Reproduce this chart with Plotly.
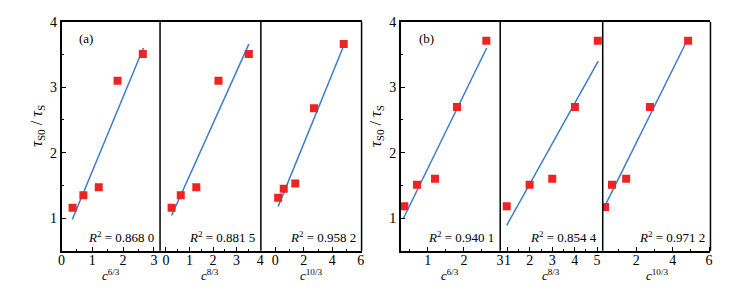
import plotly.graph_objects as go

# The page body has an 8px default margin; compensate so the picture matches 738x291.
OFF = 8
W, H = 738 - 2 * OFF, 291 - 2 * OFF

# ---------------- data ----------------
panel_labels = ["(a)", "(b)"]
x_title_exps = ["6/3", "8/3", "10/3"]
r2_labels = ["0.868 0", "0.881 5", "0.958 2", "0.940 1", "0.854 4", "0.971 2"]

x_a1 = [0.36, 0.71, 1.21, 1.82, 2.64]
y_a1 = [1.16, 1.35, 1.47, 3.10, 3.51]
x_a2 = [0.24, 0.63, 1.29, 2.23, 3.52]
y_a2 = [1.16, 1.35, 1.47, 3.10, 3.51]
x_a3 = [0.21, 0.60, 1.41, 2.72, 4.80]
y_a3 = [1.31, 1.45, 1.53, 2.68, 3.66]
x_b1 = [0.35, 0.70, 1.20, 1.81, 2.62]
y_b1 = [1.18, 1.51, 1.60, 2.70, 3.71]
x_b2 = [0.97, 1.99, 3.00, 4.01, 5.03]
y_b2 = [1.18, 1.51, 1.60, 2.70, 3.71]
x_b3 = [0.28, 0.66, 1.44, 2.75, 4.85]
y_b3 = [1.17, 1.51, 1.60, 2.70, 3.71]

# fitted-line endpoints
fx_a1, fy_a1 = [0.35, 2.66], [0.98, 3.60]
fx_a2, fy_a2 = [0.24, 3.52], [1.04, 3.66]
fx_a3, fy_a3 = [0.21, 4.85], [1.18, 3.66]
fx_b1, fy_b1 = [0.32, 2.63], [0.99, 3.60]
fx_b2, fy_b2 = [0.97, 5.05], [0.89, 3.40]
fx_b3, fy_b3 = [0.28, 4.82], [1.19, 3.73]

points = [(x_a1, y_a1), (x_a2, y_a2), (x_a3, y_a3), (x_b1, y_b1), (x_b2, y_b2), (x_b3, y_b3)]
fits = [(fx_a1, fy_a1), (fx_a2, fy_a2), (fx_a3, fy_a3), (fx_b1, fy_b1), (fx_b2, fy_b2), (fx_b3, fy_b3)]

x_ranges = [[0, 3.2], [-0.25, 4.03], [-1, 6.05], [0.25, 3.005], [0.68, 5.25], [0.15, 6.08]]
x_dticks = [1, 1, 2, 1, 1, 2]
x_minor = [0.5, 0.5, 1, 0.5, 0.5, 1]
y_range = [0.5, 4.0]

# ---------------- layout geometry (target pixels) ----------------
edges_a = [58, 157.5, 259.3, 361]
edges_b = [400.5, 501, 604.5, 713.3]
top_px, bot_px = 15, 250

def px(x):
    return (x - OFF) / W

def py(y):
    return 1 - (y - OFF) / H

domains = []
for e in (edges_a, edges_b):
    for i in range(3):
        domains.append([px(e[i]), px(e[i + 1])])

RED = "#EE2323"
BLUE = "#3A7DC9"
FONT = "Liberation Serif"

fig = go.Figure()
for i in range(6):
    xa = "x" if i == 0 else f"x{i+1}"
    ya = "y" if i < 3 else "y2"
    fx, fy = fits[i]
    fig.add_trace(go.Scatter(x=fx, y=fy, mode="lines", xaxis=xa, yaxis=ya,
                             line=dict(color=BLUE, width=1.5), showlegend=False))
    xs, ys = points[i]
    fig.add_trace(go.Scatter(x=xs, y=ys, mode="markers", xaxis=xa, yaxis=ya,
                             marker=dict(symbol="square", size=8, color=RED),
                             showlegend=False))

layout = dict(
    width=W, height=H, margin=dict(l=0, r=0, t=0, b=0),
    plot_bgcolor="white", paper_bgcolor="white",
    font=dict(family=FONT, size=14, color="black"),
)
for i in range(6):
    key = "xaxis" if i == 0 else f"xaxis{i+1}"
    layout[key] = dict(
        domain=domains[i], range=x_ranges[i], anchor="y" if i < 3 else "y2",
        dtick=x_dticks[i], tick0=0, ticks="inside", ticklen=4, tickwidth=1,
        tickcolor="black", ticklabeloverflow="allow", ticklabelstandoff=-4,
        minor=dict(dtick=x_minor[i], tick0=0, ticks="inside", ticklen=2.5,
                   tickwidth=1, tickcolor="black"),
        showline=True, linecolor="black", linewidth=1.5, mirror=True,
        showgrid=False, zeroline=False, tickfont=dict(size=14, family=FONT),
    )
for j, key in enumerate(["yaxis", "yaxis2"]):
    layout[key] = dict(
        domain=[py(bot_px), py(top_px)], range=y_range, anchor="x" if j == 0 else "x4",
        dtick=1, ticks="inside", ticklen=5, tickwidth=1, tickcolor="black",
        ticklabeloverflow="allow",
        minor=dict(dtick=0.5, ticks="inside", ticklen=3, tickwidth=1, tickcolor="black"),
        showline=True, linecolor="black", linewidth=1.5,
        showgrid=False, zeroline=False, tickfont=dict(size=14, family=FONT),
    )
fig.update_layout(**layout)

# vertical frame lines (dividers & right edges)
shapes = []
for e in (edges_a, edges_b):
    for xv in e[1:]:
        shapes.append(dict(type="line", xref="paper", yref="paper",
                           x0=px(xv), x1=px(xv), y0=py(bot_px), y1=py(top_px),
                           line=dict(color="black", width=1.5)))
fig.update_layout(shapes=shapes)

ann = []
for k, e in enumerate((edges_a, edges_b)):
    ann.append(dict(text=panel_labels[k], xref="paper", yref="paper",
                    x=px(e[0] + 16), y=py(32), xanchor="left", yanchor="middle",
                    showarrow=False, font=dict(size=13, family=FONT)))
    ann.append(dict(text="<i>τ</i><sub>S0</sub> / <i>τ</i><sub>S</sub>", xref="paper", yref="paper",
                    x=px(e[0] - 25), y=py(122), xanchor="center", yanchor="middle",
                    textangle=-90, showarrow=False, font=dict(size=16, family=FONT)))
    for i in range(3):
        ann.append(dict(text="<i>c</i><sup>" + x_title_exps[i] + "</sup>", xref="paper", yref="paper",
                        x=px((e[i] + e[i + 1]) / 2), y=py(275), xanchor="center",
                        yanchor="middle", showarrow=False, font=dict(size=13, family=FONT)))
        ann.append(dict(text="<i>R</i><sup>2</sup> = " + r2_labels[k * 3 + i],
                        xref="paper", yref="paper", x=px(e[i + 1] - 4), y=py(236),
                        xanchor="right", yanchor="middle", showarrow=False,
                        font=dict(size=13, family=FONT)))
fig.update_layout(annotations=ann)

fig.write_html("out.html")
